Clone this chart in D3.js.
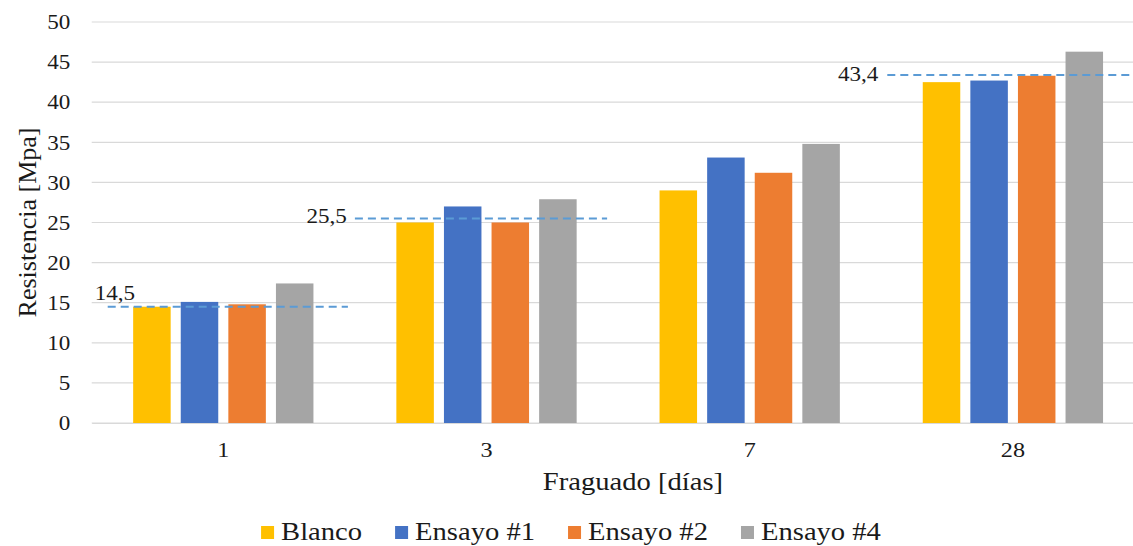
<!DOCTYPE html>
<html>
<head>
<meta charset="utf-8">
<script src="https://cdn.jsdelivr.net/npm/d3@7"></script>
<style>
  html, body { margin: 0; padding: 0; background: #fff; }
  svg { display: block; }
</style>
</head>
<body>
<svg id="chart" width="1133" height="546"></svg>
<script>
// Setting times (days) on the x axis
const categories = ["1", "3", "7", "28"];
// Series names, one bar per series inside each group
const seriesNames = ["Blanco", "Ensayo #1", "Ensayo #2", "Ensayo #4"];
// Compressive strength values [MPa] for each series, by category
const blanco  = [14.5, 25.0, 29.0, 42.5];
const ensayo1 = [15.1, 27.0, 33.1, 42.7];
const ensayo2 = [14.8, 25.0, 31.2, 43.3];
const ensayo4 = [17.4, 27.9, 34.8, 46.3];
// Reference levels shown as dashed lines
const refCategories = ["1", "3", "28"];
const refValues = [14.5, 25.5, 43.4];
// Y axis ticks
const yTicks = [0, 5, 10, 15, 20, 25, 30, 35, 40, 45, 50];

const colors = ["#FFC000", "#4472C4", "#ED7D31", "#A5A5A5"];
const seriesValues = [blanco, ensayo1, ensayo2, ensayo4];
const SX = 1.1; // horizontal stretch of the serif text
const FONT = '"Liberation Serif"';
const INK = "#1a1a1a";

const svg = d3.select("#chart");
const plotLeft = 91.7, plotRight = 1144.5, plotTop = 22, plotBottom = 423;

const x = d3.scaleBand().domain(categories).range([plotLeft, plotRight]).paddingInner(0).paddingOuter(0);
const xInner = d3.scaleBand().domain(seriesNames).range([0, x.bandwidth()])
  .paddingInner(0.212).paddingOuter(0.871);
const y = d3.scaleLinear().domain([0, 50]).range([plotBottom, plotTop]);

function serif(sel, size) {
  return sel.style("font-family", FONT).style("font-size", size + "px").style("fill", INK);
}

// Horizontal gridlines
svg.append("g")
  .selectAll("line")
  .data(yTicks)
  .join("line")
  .attr("x1", plotLeft).attr("x2", plotRight)
  .attr("y1", d => y(d)).attr("y2", d => y(d))
  .attr("stroke", "#D9D9D9").attr("stroke-width", 1.2);

// Y axis labels
const yAxis = svg.append("g")
  .attr("transform", `translate(${plotLeft},0)`)
  .call(d3.axisLeft(y).tickValues(yTicks).tickSize(0).tickPadding(0).tickFormat(d3.format("d")));
yAxis.attr("font-family", null).attr("font-size", null);
yAxis.select(".domain").remove();
serif(yAxis.selectAll("text"), 21)
  .attr("x", -21.5 / SX)
  .attr("transform", `scale(${SX},1)`);

// Bars
const rows = categories.map((c, i) => ({ cat: c, vals: seriesNames.map((s, j) => ({ s, j, v: seriesValues[j][i] })) }));
svg.append("g")
  .selectAll("g")
  .data(rows)
  .join("g")
  .attr("transform", d => `translate(${x(d.cat)},0)`)
  .selectAll("rect")
  .data(d => d.vals)
  .join("rect")
  .attr("x", d => xInner(d.s))
  .attr("width", xInner.bandwidth())
  .attr("y", d => y(d.v))
  .attr("height", d => y(0) - y(d.v))
  .attr("fill", d => colors[d.j]);

// X axis
const xAxis = svg.append("g")
  .attr("transform", `translate(0,${plotBottom})`)
  .call(d3.axisBottom(x).tickSize(0).tickPadding(18.5));
xAxis.attr("font-family", null).attr("font-size", null);
xAxis.select(".domain").attr("stroke", "#D9D9D9").attr("stroke-width", 1.2);
serif(xAxis.selectAll("text"), 22)
  .attr("transform", `scale(${SX},1)`);

// Reference dashed lines with their labels
const refLayout = [
  { from: 16, to: -7,  labelX: 3,   labelDy: -7, anchor: "start" },
  { from: 0,  to: -11, labelX: -8,  labelDy: 5,  anchor: "end" },
  { from: 6,  to: -4,  labelX: -9,  labelDy: 6,  anchor: "end" }
];
const refG = svg.append("g");
refValues.forEach((v, i) => {
  const bx = x(refCategories[i]);
  const L = refLayout[i];
  const x1 = bx + L.from, x2 = bx + x.bandwidth() + L.to;
  refG.append("line")
    .attr("x1", x1).attr("x2", x2)
    .attr("y1", y(v)).attr("y2", y(v))
    .attr("stroke", "#5B9BD5").attr("stroke-width", 2)
    .attr("stroke-dasharray", "8,5");
  const lx = L.anchor === "start" ? bx + L.labelX : x1 + L.labelX;
  serif(refG.append("text"), 21)
    .attr("transform", `translate(${lx},${y(v) + L.labelDy}) scale(${SX},1)`)
    .attr("text-anchor", L.anchor)
    .text(d3.format(".1f")(v).replace(".", ","));
});

// Axis titles
serif(svg.append("text"), 26)
  .attr("transform", `translate(36,${(plotTop + plotBottom) / 2}) rotate(-90)`)
  .attr("text-anchor", "middle")
  .text("Resistencia [Mpa]");

serif(svg.append("text"), 26)
  .attr("transform", `translate(633,490) scale(${SX},1)`)
  .attr("text-anchor", "middle")
  .text("Fraguado [días]");

// Legend
const legend = svg.append("g");
const sw = 13, gapText = 7, gapItem = 33;
let cursor = 0;
seriesNames.forEach((name, i) => {
  const g = legend.append("g");
  g.append("rect").attr("x", 0).attr("y", -14).attr("width", sw).attr("height", sw).attr("fill", colors[i]);
  const t = serif(g.append("text"), 26)
    .attr("transform", `translate(${sw + gapText},0) scale(${SX},1)`)
    .text(name);
  const w = t.node().getComputedTextLength() * SX;
  g.attr("transform", `translate(${cursor},0)`);
  cursor += sw + gapText + w + gapItem;
});
const totalW = cursor - gapItem;
legend.attr("transform", `translate(${571 - totalW / 2},540)`);
</script>
</body>
</html>
